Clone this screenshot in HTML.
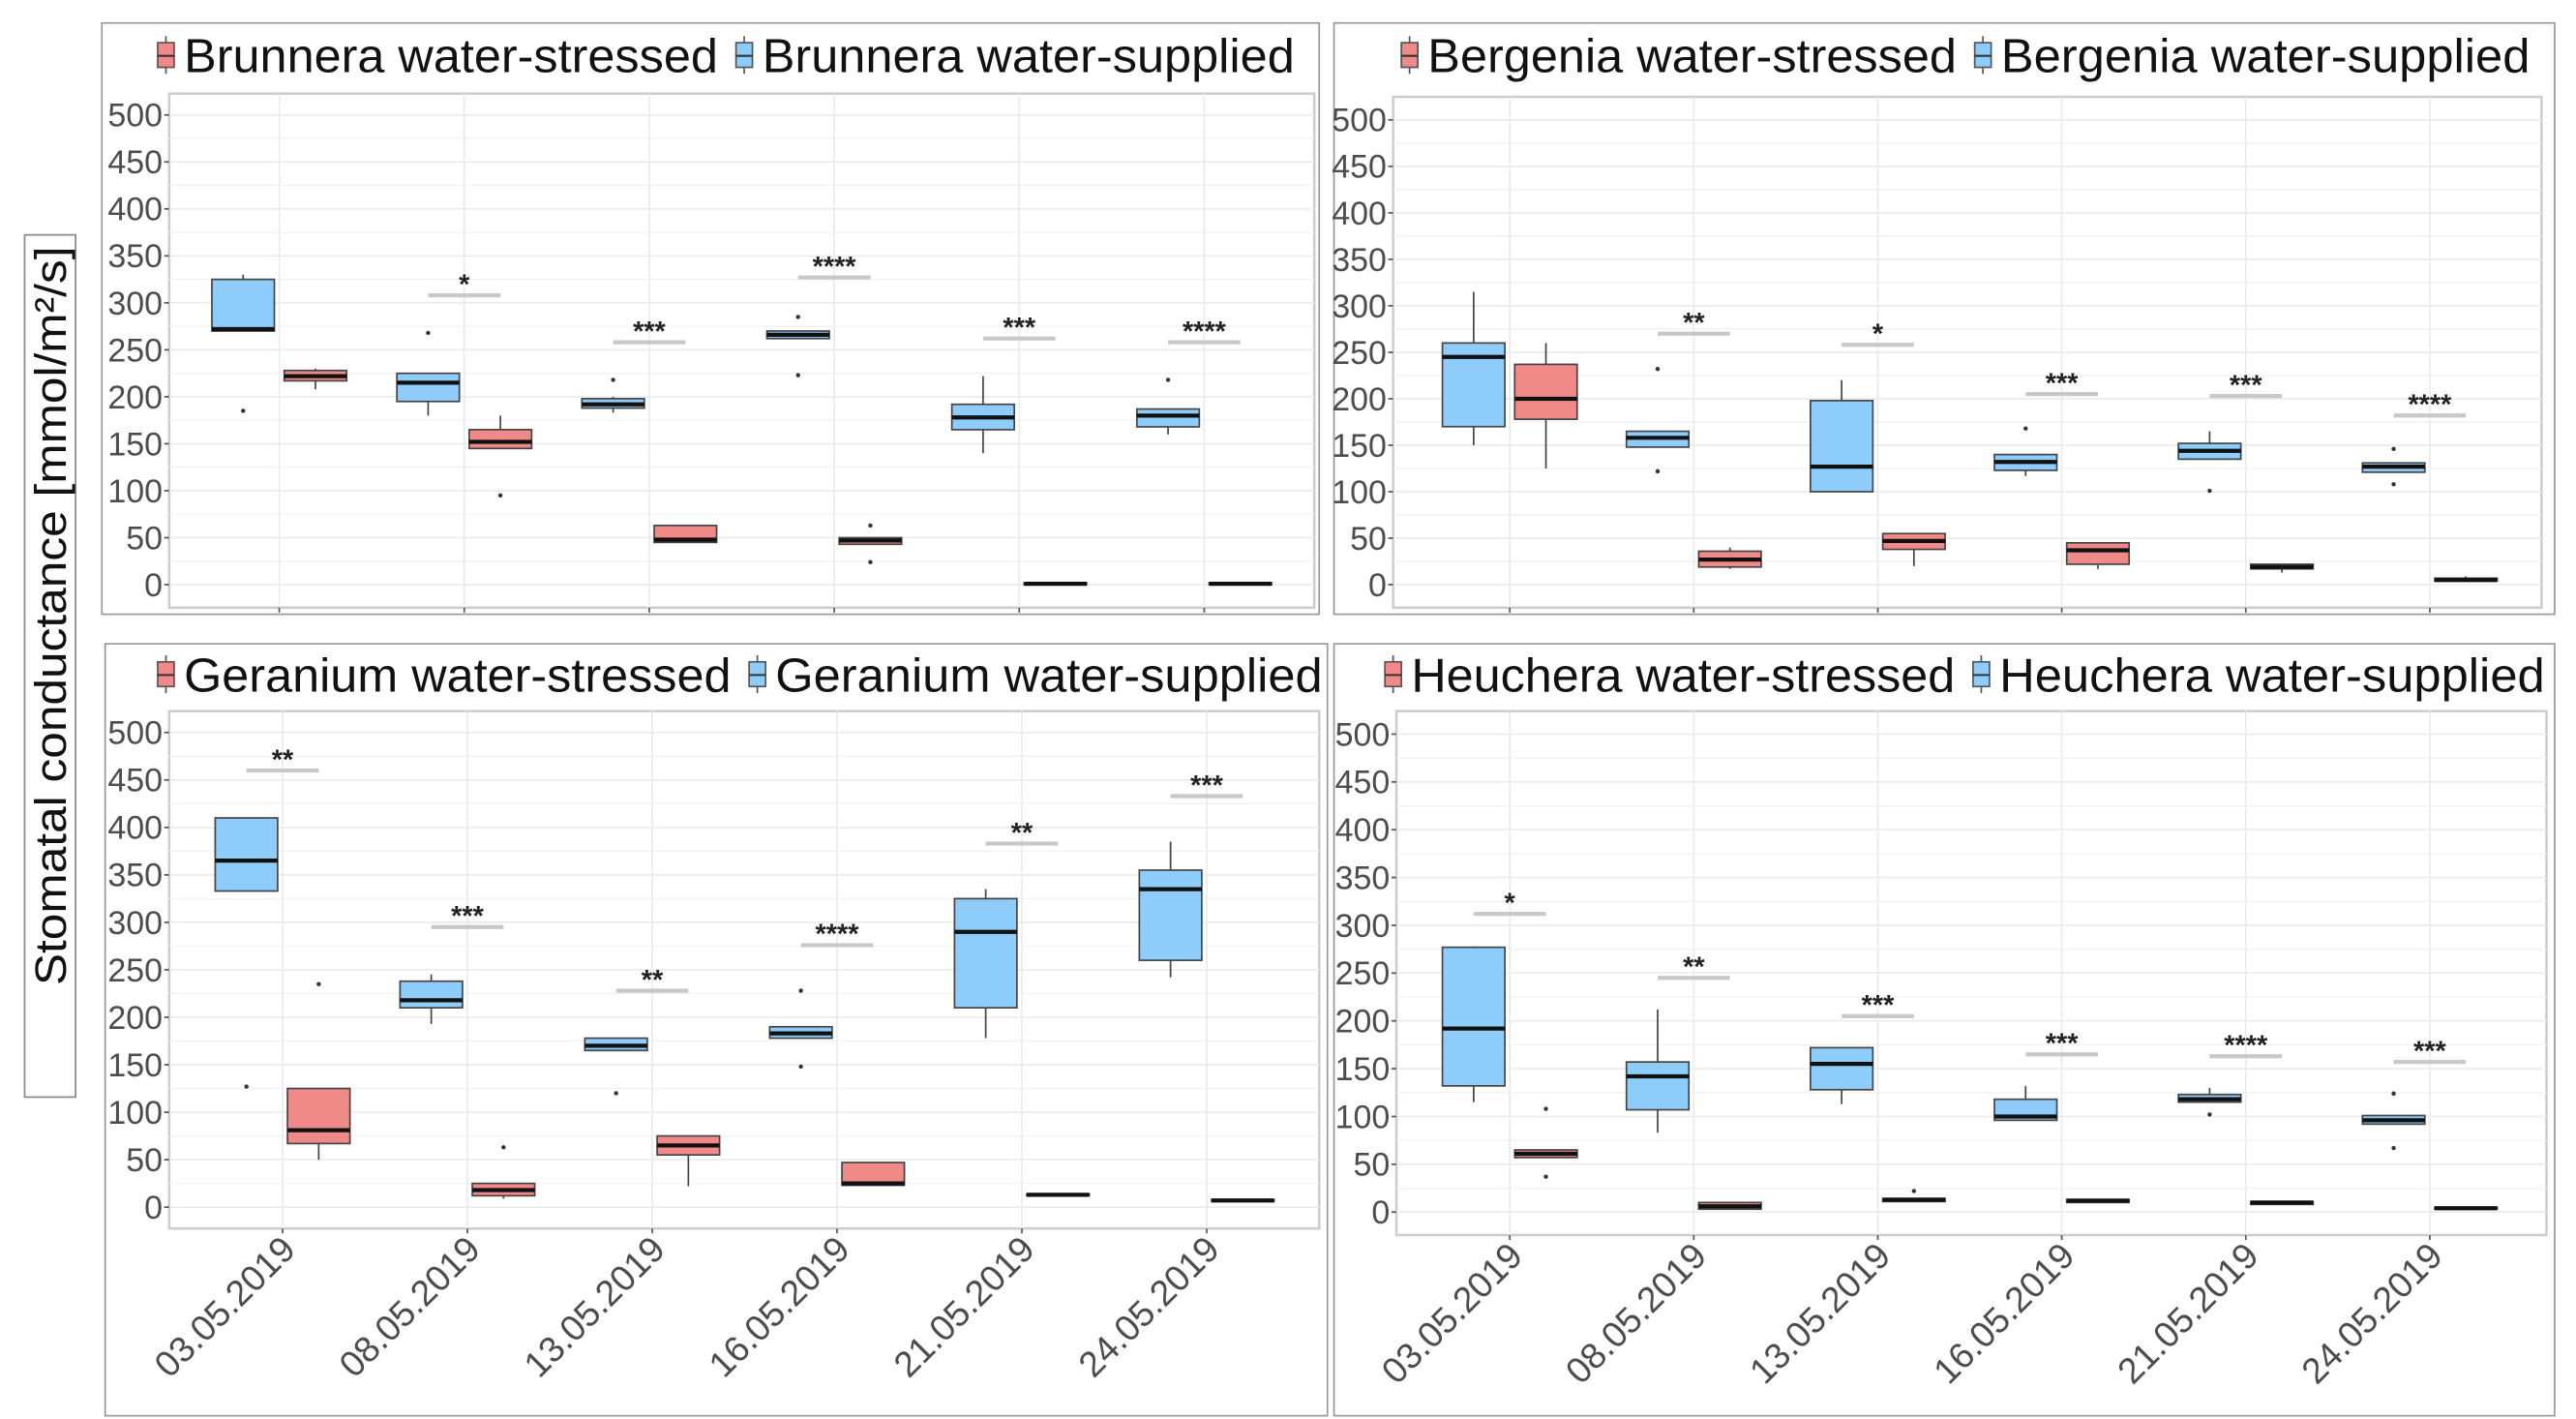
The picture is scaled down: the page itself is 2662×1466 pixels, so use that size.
<!DOCTYPE html>
<html><head><meta charset="utf-8"><style>
html,body{margin:0;padding:0;background:#fff;}
svg{display:block;font-family:"Liberation Sans",sans-serif;}
</style></head><body>
<svg id="chart" width="2662" height="1466" viewBox="0 0 1568 864" preserveAspectRatio="none" xmlns="http://www.w3.org/2000/svg">
<rect x="0" y="0" width="1568" height="864" fill="#fff"/>
<g>
<rect x="15" y="143" width="31" height="525" fill="#fff" stroke="#888" stroke-width="1"/>
<text transform="translate(40,375) rotate(-90)" text-anchor="middle" font-size="27" fill="#111" textLength="450" lengthAdjust="spacingAndGlyphs">Stomatal conductance [mmol/m²/s]</text>
</g>
</svg>
<script>
const dates = ["03.05.2019","08.05.2019","13.05.2019","16.05.2019","21.05.2019","24.05.2019"];
const yTicks = [0,50,100,150,200,250,300,350,400,450,500];
const species = ["Brunnera","Bergenia","Geranium","Heuchera"];
// box stats per date: [low whisker, q1, median, q3, high whisker]
const brunneraSupplied = [[270,270,272,325,330],[180,195,215,225,225],[183,188,192,198,200],[262,262,266,270,270],[140,165,178,192,222],[160,168,180,187,187]];
const brunneraStressed = [[208,217,222,228,230],[145,145,152,165,180],[45,45,48,63,63],[43,43,47,50,50],[0,0,1,2,2],[0,0,1,2,2]];
const brunneraSupOut = [[185],[268],[218],[285,223],[],[218]];
const brunneraStrOut = [[],[95],[],[63,24],[],[]];
const brunneraSig = ["","*","***","****","***","****"];
const brunneraSigY = [0,308,258,327,262,258];

const bergeniaSupplied = [[150,170,245,260,315],[148,148,158,165,165],[100,100,127,198,220],[117,123,132,140,140],[135,135,144,152,165],[121,121,127,131,131]];
const bergeniaStressed = [[125,178,200,237,260],[17,19,27,36,40],[20,38,47,55,55],[17,22,37,45,45],[13,17,19,22,22],[4,4,5,7,9]];
const bergeniaSupOut = [[],[232,122],[],[168],[101],[146,108]];
const bergeniaStrOut = [[],[],[],[],[],[]];
const bergeniaSig = ["","**","*","***","***","****"];
const bergeniaSigY = [0,270,258,205,203,182];

const geraniumSupplied = [[333,333,365,410,410],[193,210,218,238,245],[165,165,170,178,178],[178,178,183,190,190],[178,210,290,325,335],[242,260,335,355,385]];
const geraniumStressed = [[50,67,81,125,125],[9,12,18,25,25],[22,55,65,75,75],[23,23,25,47,47],[12,12,13,14,14],[6,6,7,8,8]];
const geraniumSupOut = [[127],[],[120],[148,228],[],[]];
const geraniumStrOut = [[235],[63],[],[],[],[]];
const geraniumSig = ["**","***","**","****","**","***"];
const geraniumSigY = [460,295,228,276,383,433];

const heucheraSupplied = [[115,132,192,277,278],[83,107,142,157,212],[113,128,155,172,172],[96,96,100,118,132],[115,115,118,123,130],[92,92,96,101,101]];
const heucheraStressed = [[57,57,61,65,65],[3,3,6,10,10],[11,11,13,14,14],[10,10,12,13,13],[8,8,10,11,11],[3,3,4,5,5]];
const heucheraSupOut = [[],[],[],[],[102],[124,67]];
const heucheraStrOut = [[108,37],[],[22],[],[],[]];
const heucheraSig = ["*","**","***","***","****","***"];
const heucheraSigY = [312,245,205,165,163,157];

const NS="http://www.w3.org/2000/svg";
const svg=document.getElementById('chart');
function mk(tag,attrs,parent){const e=document.createElementNS(NS,tag);for(const k in attrs)e.setAttribute(k,attrs[k]);(parent||svg).appendChild(e);return e;}

const panels=[
 {name:"brunnera",sp:"Brunnera",sup:brunneraSupplied,str:brunneraStressed,supOut:brunneraSupOut,strOut:brunneraStrOut,sig:brunneraSig,sigY:brunneraSigY,
  outer:[62,14,741,360],plot:[103,57,697,313],y0:356,y500:70,xc0:170,step:112.6,legY:44,legX:95,legW1:325,legX2:447,legW2:324,xlabels:false},
 {name:"bergenia",sp:"Bergenia",sup:bergeniaSupplied,str:bergeniaStressed,supOut:bergeniaSupOut,strOut:bergeniaStrOut,sig:bergeniaSig,sigY:bergeniaSigY,
  outer:[812,14,743,360],plot:[848,59,699,311],y0:356,y500:73,xc0:919,step:112,legY:44,legX:852,legW1:322,legX2:1201,legW2:322,xlabels:false},
 {name:"geranium",sp:"Geranium",sup:geraniumSupplied,str:geraniumStressed,supOut:geraniumSupOut,strOut:geraniumStrOut,sig:geraniumSig,sigY:geraniumSigY,
  outer:[64,392,744,470],plot:[103,433,700,315],y0:735,y500:446,xc0:172,step:112.5,legY:421,legX:95,legW1:333,legX2:455,legW2:333,xlabels:true},
 {name:"heuchera",sp:"Heuchera",sup:heucheraSupplied,str:heucheraStressed,supOut:heucheraSupOut,strOut:heucheraStrOut,sig:heucheraSig,sigY:heucheraSigY,
  outer:[812,392,743,470],plot:[850,433,700,319],y0:738,y500:447,xc0:919,step:112,legY:421,legX:842,legW1:331,legX2:1200,legW2:332,xlabels:true}
];
const BLUE="#8ecdfb", RED="#f08a88";
panels.forEach(p=>{
 const g=mk('g',{});
 
 
 const yS=v=>p.y0+(p.y500-p.y0)*v/500;
 const xS=i=>p.xc0+p.step*i;
 const o=mk('rect',{x:p.outer[0],y:p.outer[1],width:p.outer[2],height:p.outer[3],fill:'none',stroke:'#999','stroke-width':1},g);
 
 
 [[p.legX,RED,p.sp+" water-stressed",p.legW1,'stressed'],[p.legX2,BLUE,p.sp+" water-supplied",p.legW2,'supplied']].forEach(l=>{
  const lg=mk('g',{},g);
  
  
  mk('line',{x1:l[0]+6,x2:l[0]+6,y1:p.legY-22,y2:p.legY+1,stroke:'#555','stroke-width':1},lg);
  mk('rect',{x:l[0]+1,y:p.legY-18,width:10,height:15,fill:l[1],stroke:'#555','stroke-width':1},lg);
  mk('line',{x1:l[0]+1,x2:l[0]+11,y1:p.legY-10,y2:p.legY-10,stroke:'#333','stroke-width':1.2},lg);
  const t=mk('text',{x:l[0]+17,y:p.legY,'font-size':29,fill:'#111',textLength:l[3],lengthAdjust:'spacingAndGlyphs'},lg);
  t.textContent=l[2];
 });
 const pr=p.plot;
 mk('rect',{x:pr[0],y:pr[1],width:pr[2],height:pr[3],fill:'#fff',stroke:'#ccc','stroke-width':1.5},g);
 for(let v=25;v<=525;v+=50){const y=yS(v);if(y>pr[1])mk('line',{x1:pr[0],x2:pr[0]+pr[2],y1:y,y2:y,stroke:'#f2f2f2','stroke-width':0.8},g);}
 yTicks.forEach(v=>{
  const y=yS(v);
  mk('line',{x1:pr[0],x2:pr[0]+pr[2],y1:y,y2:y,stroke:'#ebebeb','stroke-width':1},g);
  mk('line',{x1:pr[0]-3,x2:pr[0],y1:y,y2:y,stroke:'#555','stroke-width':1},g);
  const t=mk('text',{x:pr[0]-4,y:y+7,'text-anchor':'end','font-size':20,fill:'#4d4d4d'},g);
  
  
  t.textContent=v;
 });
 dates.forEach((d,i)=>{
  const x=xS(i);
  mk('line',{x1:x,x2:x,y1:pr[1],y2:pr[1]+pr[3],stroke:'#ebebeb','stroke-width':1},g);
  mk('line',{x1:x,x2:x,y1:pr[1]+pr[3],y2:pr[1]+pr[3]+3,stroke:'#555','stroke-width':1},g);
  if(p.xlabels){
   const tx=x+9, ty=pr[1]+pr[3]+14;
   const t=mk('text',{x:tx,y:ty,'text-anchor':'end','font-size':22,fill:'#4d4d4d',transform:`rotate(-45 ${tx} ${ty})`},g);
   
   
   t.textContent=d;
  }
 });
 const drawBox=(st,outs,cx,fill,label)=>{
  const bg=mk('g',{},g);
  
  
  const w=38;
  mk('line',{x1:cx,x2:cx,y1:yS(st[0]),y2:yS(st[4]),stroke:'#444','stroke-width':1},bg);
  mk('rect',{x:cx-w/2,y:yS(st[3]),width:w,height:Math.max(1,yS(st[1])-yS(st[3])),fill:fill,stroke:'#444','stroke-width':1},bg);
  mk('line',{x1:cx-w/2,x2:cx+w/2,y1:yS(st[2]),y2:yS(st[2]),stroke:'#111','stroke-width':2.5},bg);
  outs.forEach(v=>mk('circle',{cx:cx,cy:yS(v),r:1.3,fill:'#333'},bg));
 };
 dates.forEach((d,i)=>{
  drawBox(p.sup[i],p.supOut[i],xS(i)-22,BLUE,p.name+'-supplied-box-'+i);
  drawBox(p.str[i],p.strOut[i],xS(i)+22,RED,p.name+'-stressed-box-'+i);
  if(p.sig[i]){
   const y=yS(p.sigY[i]);
   mk('line',{x1:xS(i)-22,x2:xS(i)+22,y1:y,y2:y,stroke:'#c8c8c8','stroke-width':2.5},g);
   const t=mk('text',{x:xS(i),y:y-1,'text-anchor':'middle','font-size':17,'font-weight':'bold',fill:'#222'},g);
   
   
   t.textContent=p.sig[i];
  }
 });
});
</script>
</body></html>
